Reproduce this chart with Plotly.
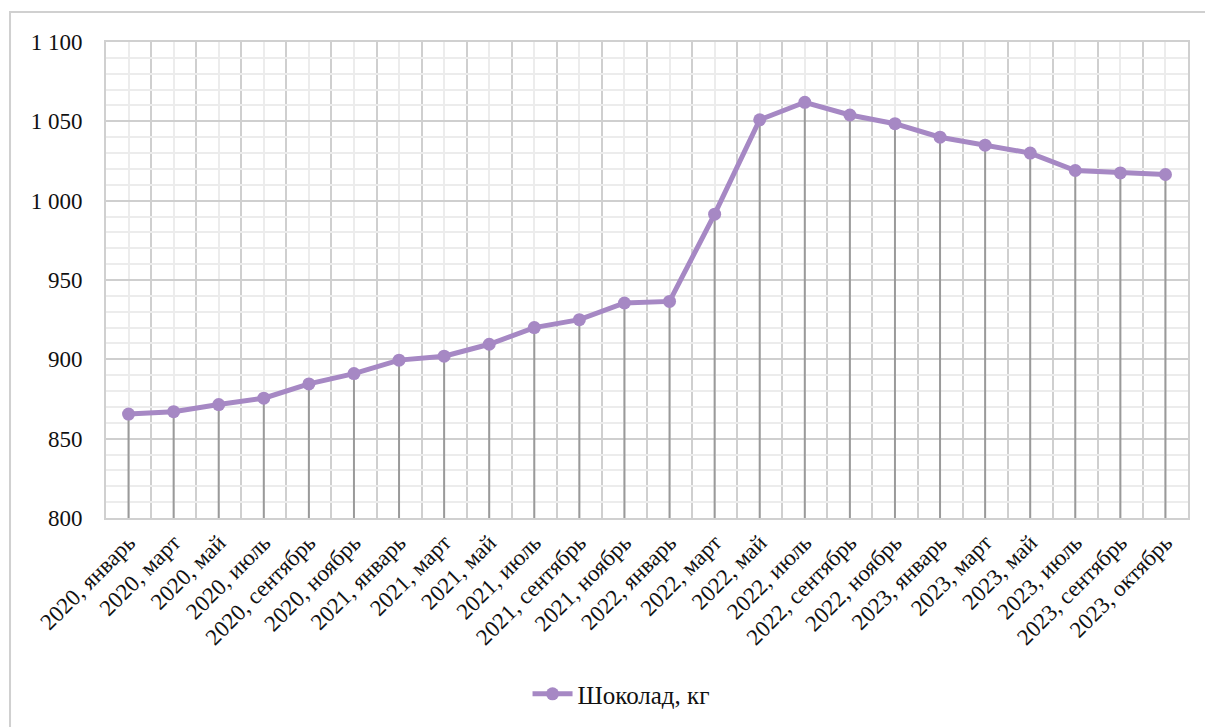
import plotly.graph_objects as go

categories = [
    "2020, январь", "2020, март", "2020, май", "2020, июль", "2020, сентябрь", "2020, ноябрь",
    "2021, январь", "2021, март", "2021, май", "2021, июль", "2021, сентябрь", "2021, ноябрь",
    "2022, январь", "2022, март", "2022, май", "2022, июль", "2022, сентябрь", "2022, ноябрь",
    "2023, январь", "2023, март", "2023, май", "2023, июль", "2023, сентябрь", "2023, октябрь",
]
values = [865.5, 867, 871.5, 875.5, 884.5, 891, 899.5, 902, 909.5, 920, 925, 935.5,
          936.5, 991.5, 1051, 1062, 1054, 1048.5, 1040, 1035, 1030, 1019, 1017.5, 1016.5]
series_name = "Шоколад, кг"
y_min, y_max = 800, 1100

xs = list(range(len(categories)))

drop_x, drop_y = [], []
for i, v in zip(xs, values):
    drop_x += [i, i, None]
    drop_y += [y_min, v, None]

FONT = "Times New Roman"

fig = go.Figure()
fig.add_trace(go.Scatter(x=drop_x, y=drop_y, mode="lines",
                         line=dict(color="#9a9a9a", width=2),
                         showlegend=False, hoverinfo="skip"))
fig.add_trace(go.Scatter(x=xs, y=values, mode="lines+markers", name=series_name,
                         line=dict(color="#a688c4", width=5),
                         marker=dict(color="#a688c4", size=13)))

fig.update_layout(
    width=1205, height=727,
    margin=dict(l=106, r=17, t=42, b=209, autoexpand=False),
    paper_bgcolor="white", plot_bgcolor="white",
    separators=", ",
    font=dict(family=FONT, size=19, color="#111111"),
    showlegend=True,
    legend=dict(orientation="h", x=0.476, xanchor="center", y=-0.37, yanchor="middle",
                font=dict(family=FONT, size=25, color="#111111"),
                itemwidth=40),
    shapes=[dict(type="rect", xref="paper", yref="paper",
                 x0=-0.0887, x1=1.02, y0=-0.5, y1=1.063,
                 line=dict(color="#d0d0d0", width=2), fillcolor="rgba(0,0,0,0)",
                 layer="below")],
)

fig.update_xaxes(
    range=[-0.5, len(categories) - 0.5], automargin=False,
    tickmode="array", tickvals=xs, ticktext=categories,
    tickangle=-45, ticks="", showgrid=True, gridcolor="#ececec", gridwidth=2,
    minor=dict(tickmode="linear", tick0=-0.5, dtick=1, showgrid=True,
               gridcolor="#cfcfcf", gridwidth=2, ticks=""),
    showline=True, linecolor="#d0d0d0", linewidth=2, mirror=True,
    zeroline=False,
    tickfont=dict(family=FONT, size=23, color="#111111"),
)
fig.update_yaxes(
    range=[y_min, y_max], dtick=50, tick0=800, tickformat=",d", automargin=False,
    showgrid=True, gridcolor="#cfcfcf", gridwidth=2,
    minor=dict(dtick=10, showgrid=True, gridcolor="#ececec", gridwidth=2),
    showline=True, linecolor="#d0d0d0", linewidth=2, mirror=True,
    zeroline=False, ticks="", ticklabelstandoff=17,
    tickfont=dict(family=FONT, size=23, color="#111111"),
)

fig.write_html("out.html", config={"displayModeBar": False},
               post_script="document.body.style.margin='0px';")
